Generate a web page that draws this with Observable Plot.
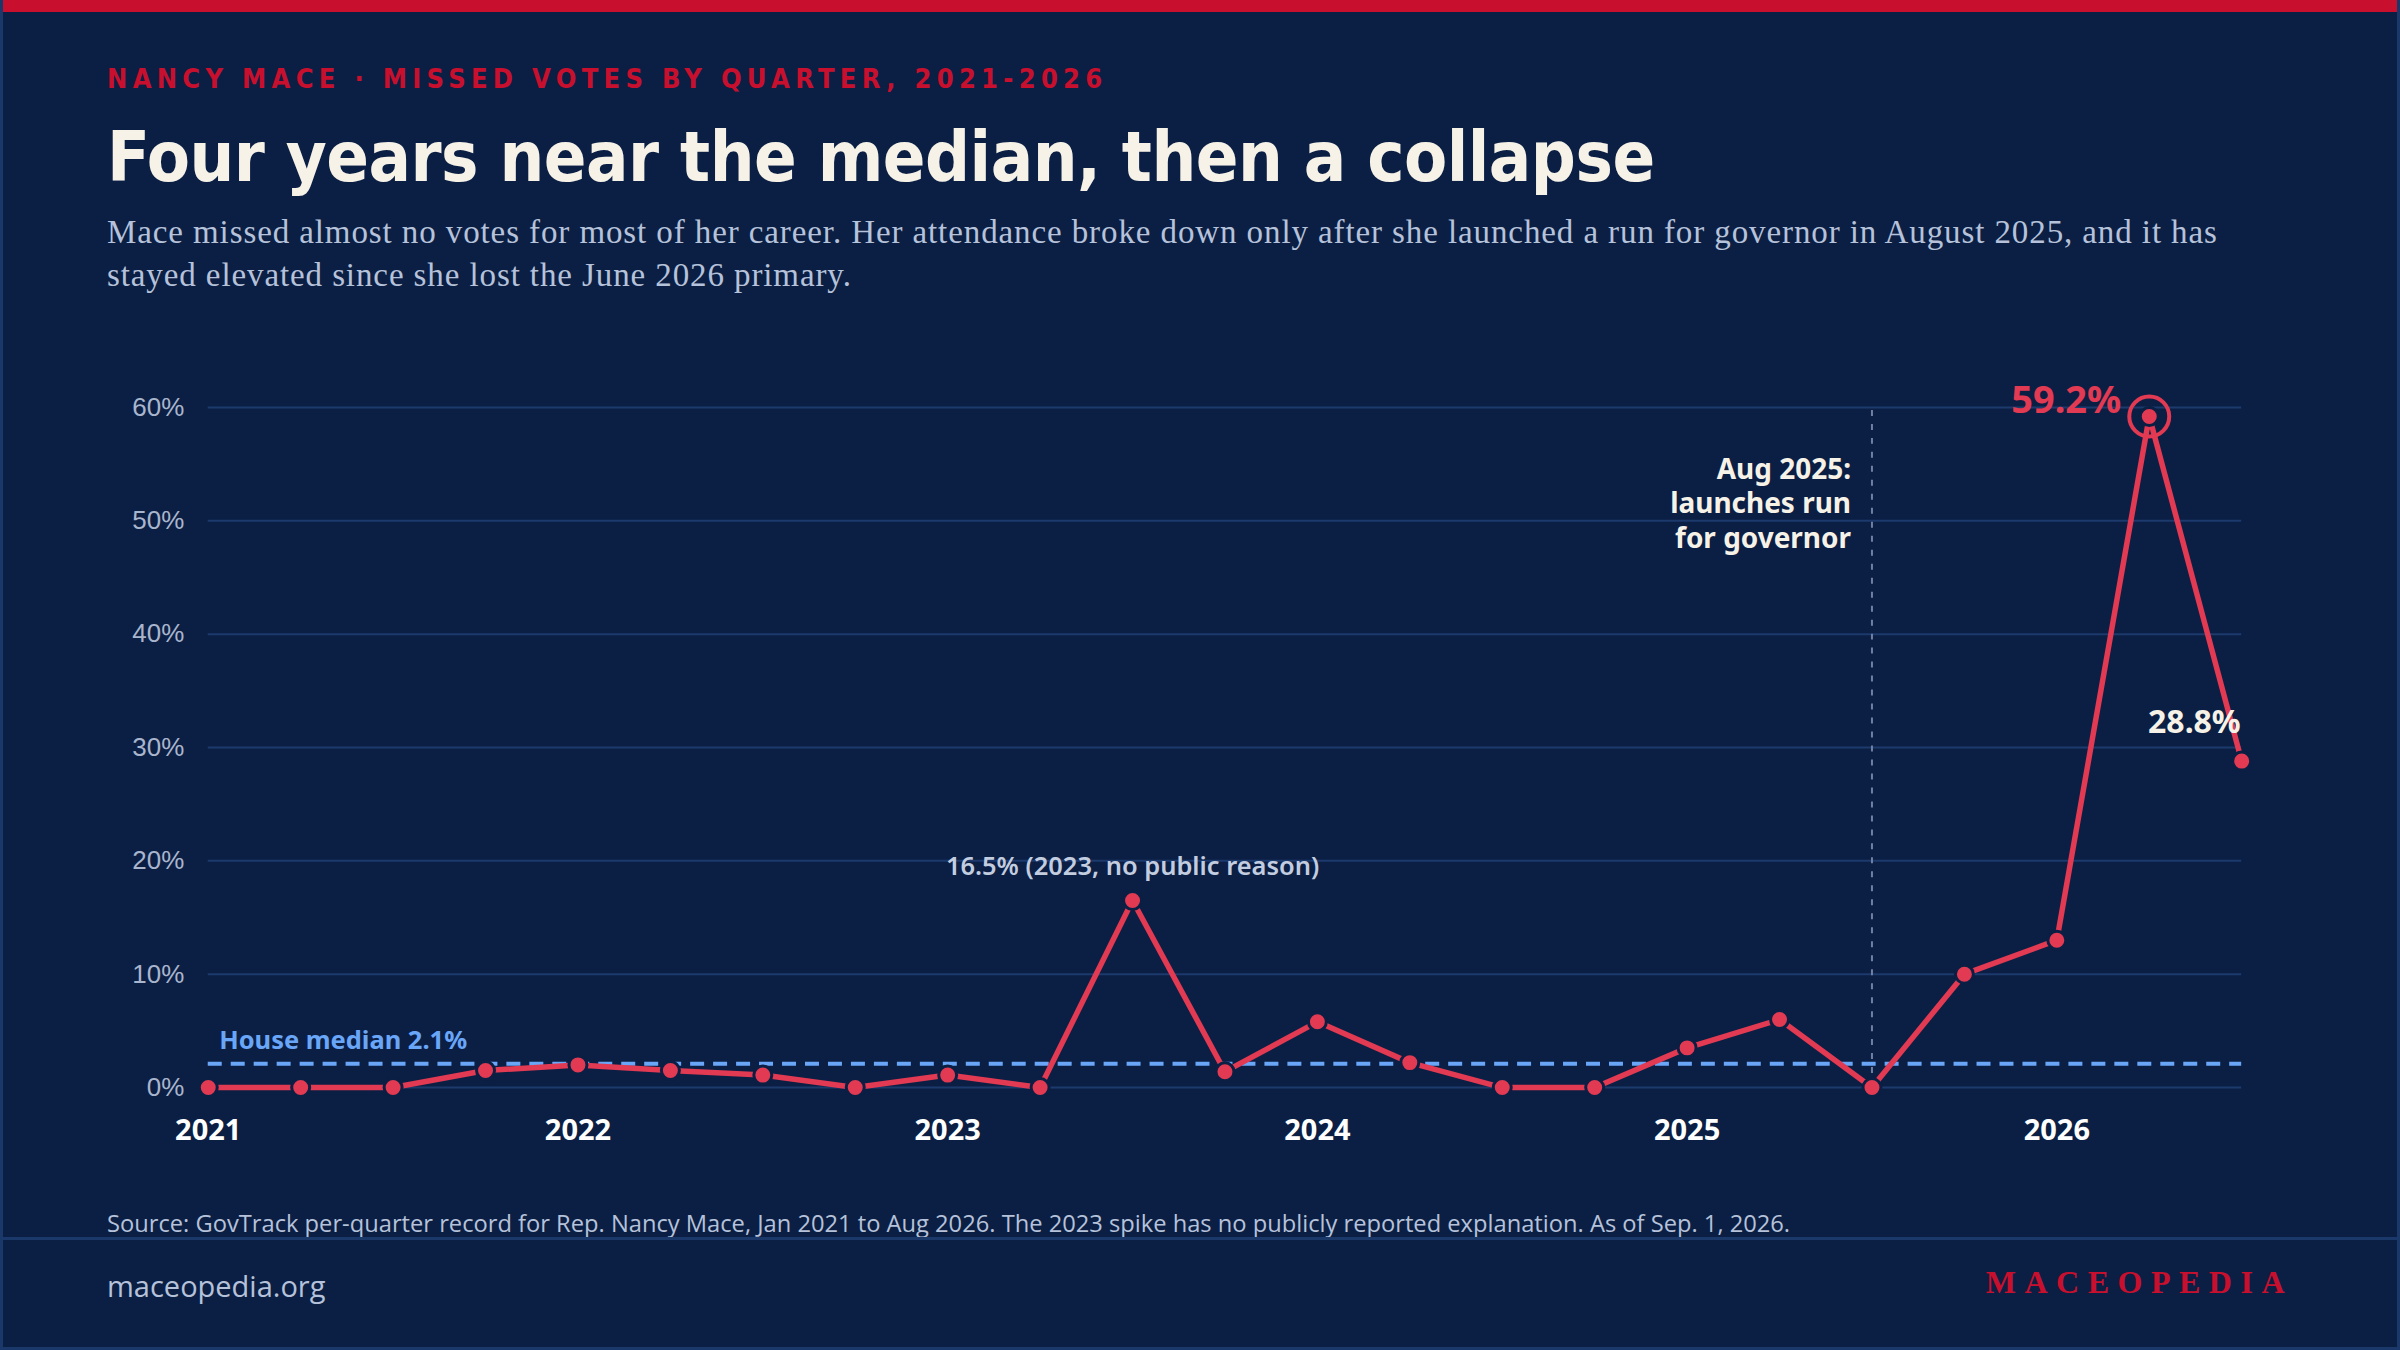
<!DOCTYPE html>
<html>
<head>
<meta charset="utf-8">
<script src="https://cdn.jsdelivr.net/npm/d3@7"></script>
<script src="https://cdn.jsdelivr.net/npm/@observablehq/plot@0.6"></script>
<style>
  html, body { margin: 0; padding: 0; background: #0b1f44; }
  #page {
    position: relative; width: 2400px; height: 1350px; box-sizing: border-box;
    background: #0b1f44; border: 3px solid #1b386a; border-top: none; overflow: hidden;
  }
  #topbar { position: absolute; left: -3px; top: 0; width: 2400px; height: 12px; background: #c8102e; }
  #eyebrow {
    position: absolute; left: 104px; top: 63px; margin: 0;
    font-family: "DejaVu Sans Condensed", "DejaVu Sans", sans-serif; font-stretch: condensed;
    font-weight: 700; font-size: 27px; letter-spacing: 5.3px; color: #c8102e; white-space: nowrap;
  }
  #title {
    position: absolute; left: 104px; top: 112px; margin: 0;
    font-family: "DejaVu Sans Condensed", "DejaVu Sans", sans-serif; font-stretch: condensed;
    font-weight: 700; font-size: 70px; line-height: 90px; color: #f6f2e8; white-space: nowrap; letter-spacing: -0.5px;
  }
  #subtitle {
    position: absolute; left: 104px; top: 211px; margin: 0;
    font-family: "Liberation Serif", "Times New Roman", serif;
    font-size: 33px; line-height: 43px; letter-spacing: 0.9px; color: #b6c2da; white-space: nowrap;
  }
  #chart { position: absolute; left: -3px; top: 340px; }
  #source {
    position: absolute; left: 104px; top: 1207px; margin: 0;
    font-family: "Open Sans", "Noto Sans", sans-serif; font-size: 23.7px; color: #b6c2da; white-space: nowrap;
  }
  #rule { position: absolute; left: -3px; top: 1237px; width: 2400px; height: 3px; background: #1b386a; }
  #site {
    position: absolute; left: 104px; top: 1266px; margin: 0;
    font-family: "Open Sans", "Noto Sans", sans-serif; font-size: 29px; color: #b6c2da; white-space: nowrap;
  }
  #brand {
    position: absolute; right: 104px; top: 1264px; margin: 0;
    font-family: "Liberation Serif", "Times New Roman", serif; font-weight: 700;
    font-size: 32px; letter-spacing: 8.5px; color: #c8102e; white-space: nowrap;
  }
</style>
</head>
<body>
<div id="page">
  <div id="topbar"></div>
  <div id="eyebrow">NANCY MACE · MISSED VOTES BY QUARTER, 2021-2026</div>
  <div id="title">Four years near the median, then a collapse</div>
  <div id="subtitle">Mace missed almost no votes for most of her career. Her attendance broke down only after she launched a run for governor in August 2025, and it has<br>stayed elevated since she lost the June 2026 primary.</div>
  <div id="chart"></div>
  <div id="source">Source: GovTrack per-quarter record for Rep. Nancy Mace, Jan 2021 to Aug 2026. The 2023 spike has no publicly reported explanation. As of Sep. 1, 2026.</div>
  <div id="rule"></div>
  <div id="site">maceopedia.org</div>
  <div id="brand">MACEOPEDIA</div>
</div>
<script>
// ---- data ----
const quarters = [
  "2021 Q1","2021 Q2","2021 Q3","2021 Q4",
  "2022 Q1","2022 Q2","2022 Q3","2022 Q4",
  "2023 Q1","2023 Q2","2023 Q3","2023 Q4",
  "2024 Q1","2024 Q2","2024 Q3","2024 Q4",
  "2025 Q1","2025 Q2","2025 Q3","2025 Q4",
  "2026 Q1","2026 Q2","2026 Q3"
];
const missedPct = [
  0, 0, 0, 1.5,
  2.0, 1.5, 1.1, 0,
  1.1, 0, 16.5, 1.4,
  5.8, 2.2, 0, 0,
  3.5, 6.0, 0, 10.0,
  13.0, 59.2, 28.8
];
const houseMedian = 2.1;
const launchQuarter = "2025 Q3";
const yTicks = [0, 10, 20, 30, 40, 50, 60];
const xTicks = [2021, 2022, 2023, 2024, 2025, 2026];
const medianLabel = "House median 2.1%";
const launchLabel = "Aug 2025:\nlaunches run\nfor governor";
const spikeLabel = "16.5% (2023, no public reason)";
const peakLabel = "59.2%";
const lastLabel = "28.8%";

// ---- build table ----
const toX = q => { const [y, qq] = q.split(" Q"); return +y + (+qq - 1) / 4; };
const rows = quarters.map((q, i) => ({ q, x: toX(q), v: missedPct[i] }));
const spike = rows[10];
const peak = rows[21];
const last = rows[22];
const launchX = toX(launchQuarter);

const BG = "#0b1f44";
const RED = "#e23a52";
const sansBold = "'Noto Sans', 'Open Sans', sans-serif";

const chart = Plot.plot({
  width: 2400,
  height: 820,
  marginLeft: 208,
  marginRight: 156,
  marginTop: 67,
  marginBottom: 72,
  x: { domain: [2021, 2026.5] },
  y: { domain: [0, 60] },
  style: { background: "transparent", overflow: "visible" },
  marks: [
    Plot.gridY(yTicks, { stroke: "#1d3a6c", strokeOpacity: 1, strokeWidth: 2 }),
    Plot.axisY({ ticks: yTicks, tickFormat: d => d + "%", tickSize: 0, tickPadding: 24,
      fontSize: 26, fill: "#a9b5cd", fontFamily: "'Liberation Sans', Arial, sans-serif", label: null }),
    Plot.axisX({ ticks: xTicks, tickFormat: d => String(d), tickSize: 0, tickPadding: 32,
      fontSize: 29, fontWeight: 700, fill: "#ffffff", fontFamily: sansBold, label: null }),
    Plot.ruleX([launchX], { y1: 0, y2: 60, stroke: "#6f80a2", strokeWidth: 2, strokeDasharray: "6,8" }),
    Plot.ruleY([houseMedian], { stroke: "#6aa6f8", strokeWidth: 4, strokeDasharray: "14,9" }),
    Plot.text([medianLabel], { x: 2021, y: houseMedian, dx: 11, dy: -15, textAnchor: "start", lineAnchor: "bottom",
      fontSize: 25.5, fontWeight: 700, fill: "#6aa6f8", fontFamily: sansBold }),
    Plot.line(rows, { x: "x", y: "v", stroke: RED, strokeWidth: 5.5, strokeLinejoin: "round" }),
    Plot.dot(rows, { x: "x", y: "v", r: 9, fill: RED, stroke: BG, strokeWidth: 3 }),
    Plot.dot([peak], { x: "x", y: "v", r: 20, fill: "none", stroke: RED, strokeWidth: 4 }),
    Plot.text([peakLabel], { x: peak.x, y: peak.v, dx: -28, dy: -16, textAnchor: "end", lineAnchor: "middle",
      fontSize: 38, fontWeight: 700, fill: RED, fontFamily: sansBold }),
    Plot.text([lastLabel], { x: last.x, y: last.v, dx: -1, dy: -38, textAnchor: "end", lineAnchor: "middle",
      fontSize: 32, fontWeight: 700, fill: "#f6f2e8", fontFamily: sansBold }),
    Plot.text([spikeLabel], { x: spike.x, y: spike.v, dy: -34, textAnchor: "middle", lineAnchor: "middle",
      fontSize: 25.5, fontWeight: 600, fill: "#c3cde0", fontFamily: sansBold }),
    Plot.text([launchLabel], { x: launchX, y: 60, dx: -21, dy: 47, textAnchor: "end", lineAnchor: "top",
      lineHeight: 1.23, fontSize: 28, fontWeight: 700, fill: "#f6f2e8", fontFamily: sansBold })
  ]
});
document.getElementById("chart").appendChild(chart);
</script>
</body>
</html>
